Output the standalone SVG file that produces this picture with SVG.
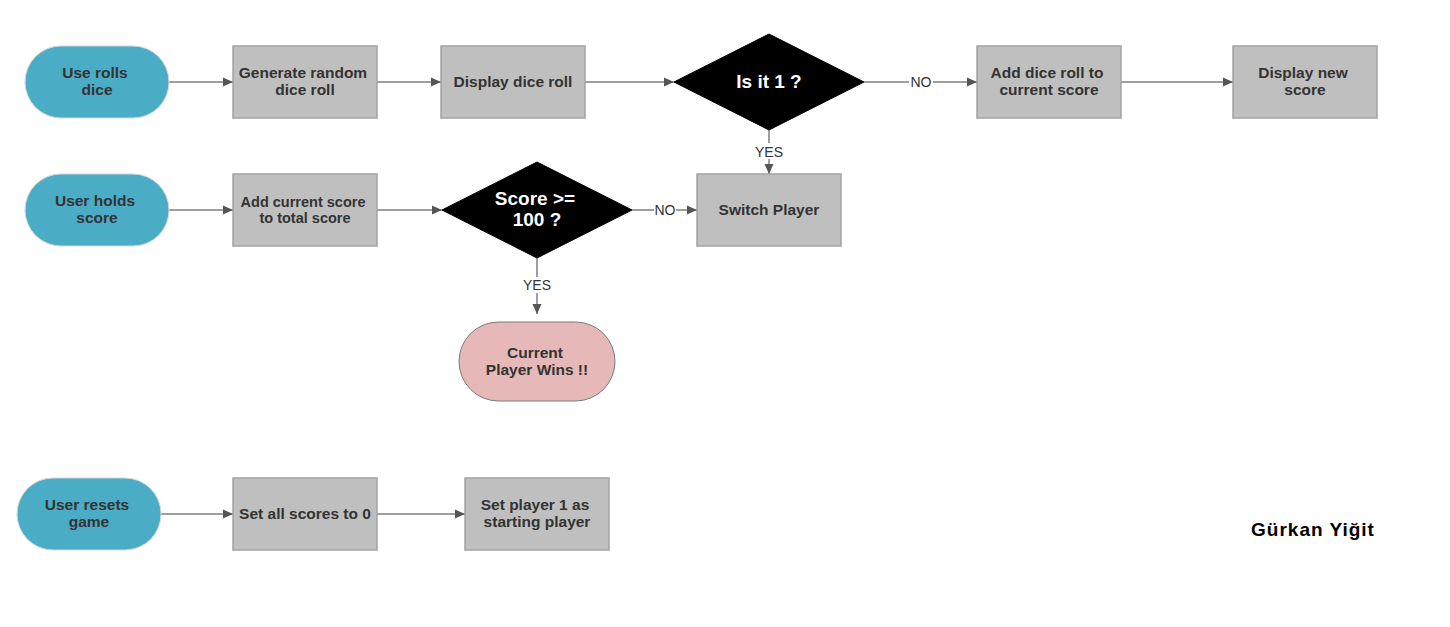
<svg xmlns="http://www.w3.org/2000/svg" width="1450" height="627" viewBox="0 0 1450 627">
<defs>
<marker id="arr" viewBox="0 0 10 10" refX="10" refY="5" markerWidth="10" markerHeight="10" markerUnits="userSpaceOnUse" orient="auto">
<path d="M0,0.5 L10,5 L0,9.5 Z" fill="#555555"/>
</marker>
<style>
.pill{fill:#4BACC6;stroke:#d6d6d6;stroke-width:1}
.box{fill:#BFBFBF;stroke:#a3a3a3;stroke-width:1.5}
.dia{fill:#000000;stroke:#000000}
.win{fill:#E6B8B7;stroke:#7a7a7a;stroke-width:1}
.t{font-family:"Liberation Sans",Arial,sans-serif;font-weight:bold;font-size:15.5px;fill:#333333;text-anchor:middle}
.s{font-size:14.5px}
.w{font-family:"Liberation Sans",Arial,sans-serif;font-weight:bold;font-size:19px;fill:#ffffff;text-anchor:middle}
.lbl{font-family:"Liberation Sans",Arial,sans-serif;font-size:14px;fill:#333333;text-anchor:middle}
.c{stroke:#7f7f7f;stroke-width:1.5;fill:none;marker-end:url(#arr)}
</style>
</defs>
<rect width="1450" height="627" fill="#ffffff"/>

<g id="connectors">
<line class="c" x1="169" y1="82" x2="233" y2="82"/>
<line class="c" x1="377" y1="82" x2="441" y2="82"/>
<line class="c" x1="585" y1="82" x2="674" y2="82"/>
<line class="c" x1="864" y1="82" x2="977" y2="82"/>
<line class="c" x1="1121" y1="82" x2="1233" y2="82"/>
<line class="c" x1="769" y1="130" x2="769" y2="174"/>
<line class="c" x1="169" y1="210" x2="233" y2="210"/>
<line class="c" x1="377" y1="210" x2="442" y2="210"/>
<line class="c" x1="632" y1="210" x2="697" y2="210"/>
<line class="c" x1="537" y1="258" x2="537" y2="314"/>
<line class="c" x1="161" y1="514" x2="233" y2="514"/>
<line class="c" x1="377" y1="514" x2="465" y2="514"/>
<rect x="909" y="74" width="24" height="16" fill="#ffffff"/>
<text class="lbl" x="921" y="87">NO</text>
<rect x="754" y="143" width="30" height="16" fill="#ffffff"/>
<text class="lbl" x="769" y="156.5">YES</text>
<rect x="654" y="202" width="22" height="16" fill="#ffffff"/>
<text class="lbl" x="665" y="215">NO</text>
<rect x="522" y="277" width="30" height="16" fill="#ffffff"/>
<text class="lbl" x="537" y="290">YES</text>
</g>

<g id="n-use-rolls">
<rect class="pill" x="25" y="46" width="144" height="72" rx="36"/>
<text class="t" x="95" y="78">Use rolls</text>
<text class="t" x="97" y="95">dice</text>
</g>
<g id="n-generate">
<rect class="box" x="233" y="46" width="144" height="72"/>
<text class="t" x="303" y="78">Generate random</text>
<text class="t" x="305" y="95">dice roll</text>
</g>
<g id="n-display-roll">
<rect class="box" x="441" y="46" width="144" height="72"/>
<text class="t" x="513" y="86.5">Display dice roll</text>
</g>
<g id="n-is-it-1">
<polygon class="dia" points="769,34 864,82 769,130 674,82"/>
<text class="w" x="769" y="87.5">Is it 1 ?</text>
</g>
<g id="n-add-roll">
<rect class="box" x="977" y="46" width="144" height="72"/>
<text class="t" x="1047" y="78">Add dice roll to</text>
<text class="t" x="1049" y="95">current score</text>
</g>
<g id="n-display-new">
<rect class="box" x="1233" y="46" width="144" height="72"/>
<text class="t" x="1303" y="78">Display new</text>
<text class="t" x="1305" y="95">score</text>
</g>

<g id="n-user-holds">
<rect class="pill" x="25" y="174" width="144" height="72" rx="36"/>
<text class="t" x="95" y="206">User holds</text>
<text class="t" x="97" y="223">score</text>
</g>
<g id="n-add-current">
<rect class="box" x="233" y="174" width="144" height="72"/>
<text class="t s" x="303" y="206.5">Add current score</text>
<text class="t s" x="305" y="222.5">to total score</text>
</g>
<g id="n-score-100">
<polygon class="dia" points="537,162 632,210 537,258 442,210"/>
<text class="w" x="535" y="205">Score &gt;=</text>
<text class="w" x="537" y="226">100 ?</text>
</g>
<g id="n-switch">
<rect class="box" x="697" y="174" width="144" height="72"/>
<text class="t" x="769" y="214.5">Switch Player</text>
</g>
<g id="n-wins">
<rect class="win" x="459" y="322" width="156" height="79" rx="39.5"/>
<text class="t" x="535" y="358">Current</text>
<text class="t" x="537" y="375">Player Wins !!</text>
</g>

<g id="n-user-resets">
<rect class="pill" x="17" y="478" width="144" height="72" rx="36"/>
<text class="t" x="87" y="510">User resets</text>
<text class="t" x="89" y="527">game</text>
</g>
<g id="n-set-scores">
<rect class="box" x="233" y="478" width="144" height="72"/>
<text class="t" x="305" y="518.5">Set all scores to 0</text>
</g>
<g id="n-set-player">
<rect class="box" x="465" y="478" width="144" height="72"/>
<text class="t" x="535" y="510">Set player 1 as</text>
<text class="t" x="537" y="527">starting player</text>
</g>

<g id="author">
<text x="1313" y="535.5" font-family="'Liberation Sans',Arial,sans-serif" font-weight="bold" font-size="19" letter-spacing="1" fill="#000000" text-anchor="middle">Gürkan Yiğit</text>
</g>
</svg>
